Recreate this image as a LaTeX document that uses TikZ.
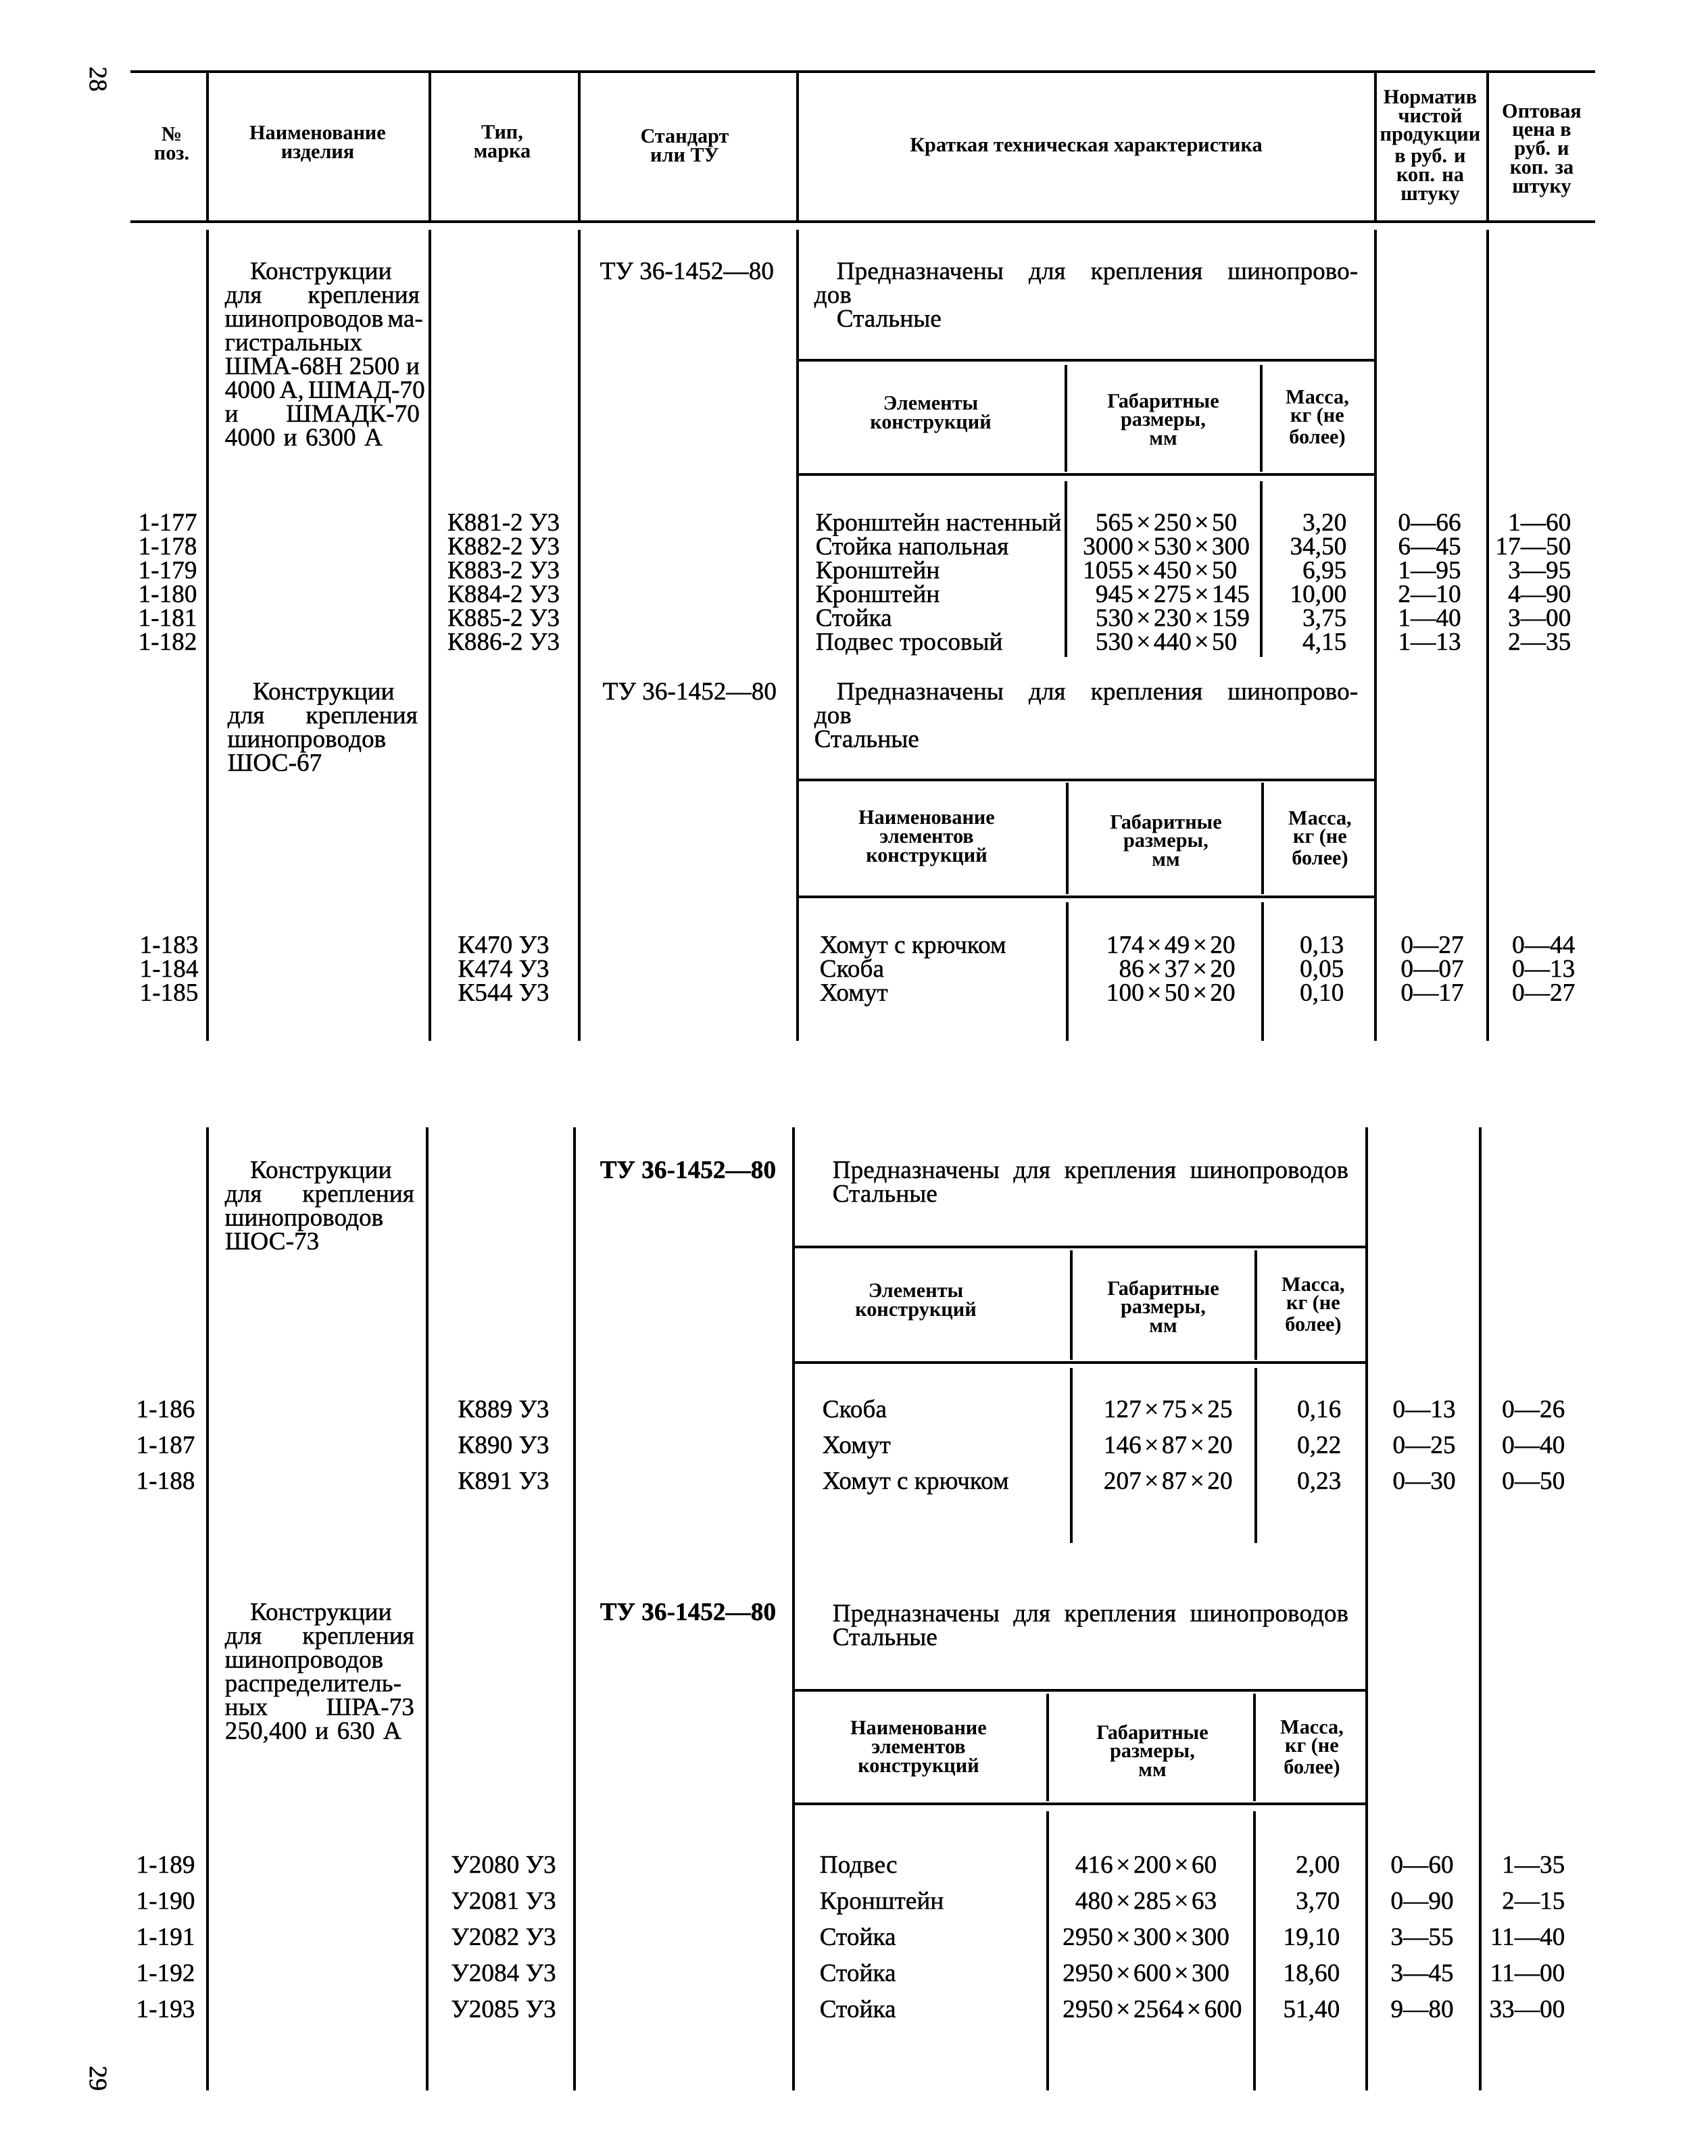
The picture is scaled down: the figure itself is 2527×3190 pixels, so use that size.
\documentclass[tikz,border=0pt]{standalone}
\usepackage{fontspec}
\setmainfont{Liberation Serif}
\newfontfamily\inkfont[FakeBold=0.8]{Liberation Serif}
\usepackage{tikz}

\newcommand\bodyfont{\inkfont\fontsize{10.6}{10}\selectfont}
\newcommand\headfont{\fontsize{8.6}{7.9}\selectfont\bfseries}
\newcommand\jl[2]{{\spaceskip=0pt\xspaceskip=0pt\makebox[#1][s]{#2}}}
\newcommand\by{\kern1.3pt×\kern1.3pt}

\tikzset{
   head/.style={font=\headfont, align=center, inner sep=0pt},
   cell/.style={font=\bodyfont, inner sep=0pt, anchor=base west},
   para/.style={cell, align=left},
   rule/.style={line width=1.4pt},
   subrule/.style={line width=1.2pt},
   col/.style={line width=0.9pt}
}

\begin{document}
\begin{tikzpicture}[x=0.01cm, y=-0.01cm]
         \useasboundingbox (0,0) rectangle (2527,3190);

         \node (pg28) at (145,117) [font=\bodyfont, rotate=-90] {28};
         \node (pg29) at (145,3075) [font=\bodyfont, rotate=-90] {29};

         % page 28
         \draw [rule] (193,106) -- (2360,106);
         \draw [rule] (193,328) -- (2360,328);
         \foreach \x in {307,636,857,1180,2035,2201}
            \draw [col] (\x,106) -- (\x,328) (\x,340) -- (\x,1540);

         \node (hnum) at (254,213) [head] {№\\поз.};
         \node (hname) at (470,213) [head] {Наименование\\изделия};
         \node (htype) at (743,213) [head] {Тип,\\марка};
         \node (hstd) at (1013,216) [head] {Стандарт\\или ТУ};
         \node (hdesc) at (1607,218) [head] {Краткая техническая характеристика};
         \node (hnorm) at (2116,218) [head] {Норматив\\чистой\\продукции\\в руб. и\\коп. на\\штуку};
         \node (hopt) at (2281,223) [head] {Оптовая\\цена в\\руб. и\\коп. за\\штуку};

         \node (nameA) at (332,413) [para, text width=2.88cm]
            {\hspace*{1em}Конструкции\\ \jl{2.88cm}{для крепления}\\
             \jl{2.88cm}{шинопроводов ма-}\\ гистральных\\
             \jl{2.88cm}{ШМА-68Н 2500 и}\\ \jl{2.88cm}{4000 А, ШМАД-70}\\
             \jl{2.88cm}{и ШМАДК-70}\\ 4000 и 6300 А};
         \node (tuA) at (887,413) [cell] {ТУ 36-1452—80};
         \node (descA) at (1204,413) [para, text width=8.04cm]
            {\jl{8.04cm}{\hspace*{0.33cm}Предназначены для крепления шинопрово-}\\
             дов\\ \hspace*{0.33cm}Стальные};

         \draw [subrule] (1178,533) -- (2035,533) (1178,702) -- (2035,702);
         \foreach \x in {1577,1866}
            \draw [col] (\x,540) -- (\x,698) (\x,712) -- (\x,972);
         \node (elA) at (1377,614) [head] {Элементы\\конструкций};
         \node (dimA) at (1721,620) [head] {Габаритные\\размеры,\\мм};
         \node (kgA) at (1949,620) [head] {Масса,\\кг (не\\более)};

         \foreach \pos/\mark/\elem/\da/\db/\kg/\nrm/\opt [count=\i from 0] in {
            {1-177/К881-2 У3/Кронштейн настенный/565/\by250\by50/3,20/0—66/1—60},
            {1-178/К882-2 У3/Стойка напольная/3000/\by530\by300/34,50/6—45/17—50},
            {1-179/К883-2 У3/Кронштейн/1055/\by450\by50/6,95/1—95/3—95},
            {1-180/К884-2 У3/Кронштейн/945/\by275\by145/10,00/2—10/4—90},
            {1-181/К885-2 У3/Стойка/530/\by230\by159/3,75/1—40/3—00},
            {1-182/К886-2 У3/Подвес тросовый/530/\by440\by50/4,15/1—13/2—35}}{
            \node (a-pos\i) at (248,785+35.3*\i) [cell, anchor=base] {\pos};
            \node (a-mark\i) at (745,785+35.3*\i) [cell, anchor=base] {\mark};
            \node (a-elem\i) at (1206,785+35.3*\i) [cell] {\elem};
            \node (a-dim\i) at (1676,785+35.3*\i) [cell] {\llap{\da}\db};
            \node (a-kg\i) at (1993,785+35.3*\i) [cell, anchor=base east] {\kg};
            \node (a-nrm\i) at (2115,785+35.3*\i) [cell, anchor=base] {\nrm};
            \node (a-opt\i) at (2325,785+35.3*\i) [cell, anchor=base east] {\opt};
         }

         \node (nameB) at (336,1035) [para, text width=2.81cm]
            {\hspace*{1em}Конструкции\\ \jl{2.81cm}{для крепления}\\
             шинопроводов\\ ШОС-67};
         \node (tuB) at (891,1035) [cell] {ТУ 36-1452—80};
         \node (descB) at (1204,1035) [para, text width=8.04cm]
            {\jl{8.04cm}{\hspace*{0.33cm}Предназначены для крепления шинопрово-}\\
             дов\\ Стальные};

         \draw [subrule] (1180,1154) -- (2035,1154) (1180,1327) -- (2035,1327);
         \foreach \x in {1579,1868}
            \draw [col] (\x,1158) -- (\x,1323) (\x,1335) -- (\x,1540);
         \node (elB) at (1371,1241) [head] {Наименование\\элементов\\конструкций};
         \node (dimB) at (1725,1243) [head] {Габаритные\\размеры,\\мм};
         \node (kgB) at (1953,1243) [head] {Масса,\\кг (не\\более)};

         \foreach \pos/\mark/\elem/\da/\db/\kg/\nrm/\opt [count=\i from 0] in {
            {1-183/К470 У3/Хомут с крючком/174/\by49\by20/0,13/0—27/0—44},
            {1-184/К474 У3/Скоба/86/\by37\by20/0,05/0—07/0—13},
            {1-185/К544 У3/Хомут/100/\by50\by20/0,10/0—17/0—27}}{
            \node (b-pos\i) at (250,1410+35.3*\i) [cell, anchor=base] {\pos};
            \node (b-mark\i) at (745,1410+35.3*\i) [cell, anchor=base] {\mark};
            \node (b-elem\i) at (1212,1410+35.3*\i) [cell] {\elem};
            \node (b-dim\i) at (1692,1410+35.3*\i) [cell] {\llap{\da}\db};
            \node (b-kg\i) at (1989,1410+35.3*\i) [cell, anchor=base east] {\kg};
            \node (b-nrm\i) at (2119,1410+35.3*\i) [cell, anchor=base] {\nrm};
            \node (b-opt\i) at (2331,1410+35.3*\i) [cell, anchor=base east] {\opt};
         }

         % page 29
         \foreach \x in {307,632,850,1174,2022,2190}
            \draw [col] (\x,1668) -- (\x,3093);

         \node (nameC) at (332,1743) [para, text width=2.8cm]
            {\hspace*{1em}Конструкции\\ \jl{2.8cm}{для крепления}\\
             шинопроводов\\ ШОС-73};
         \node (tuC) at (887,1743) [cell, font=\bodyfont\bfseries] {ТУ 36-1452—80};
         \node (descC) at (1231,1743) [para, text width=7.63cm]
            {\jl{7.63cm}{Предназначены для крепления шинопроводов}\\ Стальные};

         \draw [subrule] (1176,1845) -- (2022,1845) (1176,2016) -- (2022,2016);
         \foreach \x in {1585,1858}
            \draw [col] (\x,1850) -- (\x,2012) (\x,2024) -- (\x,2283);
         \node (elC) at (1355,1927) [head] {Элементы\\конструкций};
         \node (dimC) at (1721,1933) [head] {Габаритные\\размеры,\\мм};
         \node (kgC) at (1943,1933) [head] {Масса,\\кг (не\\более)};

         \foreach \pos/\mark/\elem/\da/\db/\kg/\nrm/\opt [count=\i from 0] in {
            {1-186/К889 У3/Скоба/127/\by75\by25/0,16/0—13/0—26},
            {1-187/К890 У3/Хомут/146/\by87\by20/0,22/0—25/0—40},
            {1-188/К891 У3/Хомут с крючком/207/\by87\by20/0,23/0—30/0—50}}{
            \node (c-pos\i) at (245,2097+53*\i) [cell, anchor=base] {\pos};
            \node (c-mark\i) at (745,2097+53*\i) [cell, anchor=base] {\mark};
            \node (c-elem\i) at (1216,2097+53*\i) [cell] {\elem};
            \node (c-dim\i) at (1688,2097+53*\i) [cell] {\llap{\da}\db};
            \node (c-kg\i) at (1985,2097+53*\i) [cell, anchor=base east] {\kg};
            \node (c-nrm\i) at (2107,2097+53*\i) [cell, anchor=base] {\nrm};
            \node (c-opt\i) at (2316,2097+53*\i) [cell, anchor=base east] {\opt};
         }

         \node (nameD) at (332,2397) [para, text width=2.8cm]
            {\hspace*{1em}Конструкции\\ \jl{2.8cm}{для крепления}\\
             шинопроводов\\ распределитель-\\ \jl{2.8cm}{ных ШРА-73}\\
             250,400 и 630 А};
         \node (tuD) at (887,2397) [cell, font=\bodyfont\bfseries] {ТУ 36-1452—80};
         \node (descD) at (1231,2399) [para, text width=7.63cm]
            {\jl{7.63cm}{Предназначены для крепления шинопроводов}\\ Стальные};

         \draw [subrule] (1176,2501) -- (2022,2501) (1176,2669) -- (2022,2669);
         \foreach \x in {1550,1856}
            \draw [col] (\x,2506) -- (\x,2665) (\x,2680) -- (\x,3093);
         \node (elD) at (1359,2588) [head] {Наименование\\элементов\\конструкций};
         \node (dimD) at (1705,2590) [head] {Габаритные\\размеры,\\мм};
         \node (kgD) at (1941,2588) [head] {Масса,\\кг (не\\более)};

         \foreach \pos/\mark/\elem/\da/\db/\kg/\nrm/\opt [count=\i from 0] in {
            {1-189/У2080 У3/Подвес/416/\by200\by60/2,00/0—60/1—35},
            {1-190/У2081 У3/Кронштейн/480/\by285\by63/3,70/0—90/2—15},
            {1-191/У2082 У3/Стойка/2950/\by300\by300/19,10/3—55/11—40},
            {1-192/У2084 У3/Стойка/2950/\by600\by300/18,60/3—45/11—00},
            {1-193/У2085 У3/Стойка/2950/\by2564\by600/51,40/9—80/33—00}}{
            \node (d-pos\i) at (245,2771+53.4*\i) [cell, anchor=base] {\pos};
            \node (d-mark\i) at (745,2771+53.4*\i) [cell, anchor=base] {\mark};
            \node (d-elem\i) at (1212,2771+53.4*\i) [cell] {\elem};
            \node (d-dim\i) at (1646,2771+53.4*\i) [cell] {\llap{\da}\db};
            \node (d-kg\i) at (1983,2771+53.4*\i) [cell, anchor=base east] {\kg};
            \node (d-nrm\i) at (2104,2771+53.4*\i) [cell, anchor=base] {\nrm};
            \node (d-opt\i) at (2316,2771+53.4*\i) [cell, anchor=base east] {\opt};
         }
\end{tikzpicture}
\end{document}
